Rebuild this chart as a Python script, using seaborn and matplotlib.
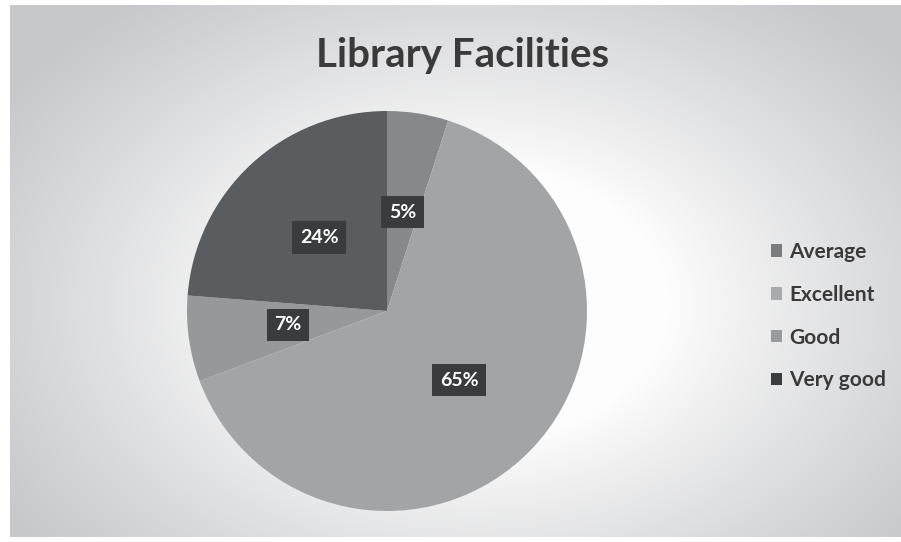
import numpy as np
import matplotlib
matplotlib.use("Agg")
import matplotlib.pyplot as plt
import seaborn as sns
from matplotlib.patches import Patch

# Survey responses on library facilities (percent of respondents)
categories = ["Average", "Excellent", "Good", "Very good"]
shares = [5, 65, 7, 24]
title = "Library Facilities"

sns.set_style("white")
plt.rcParams["font.family"] = ["Lato", "DejaVu Sans"]

slice_colors = ["#86898b", "#a3a4a6", "#96989a", "#5a5d5f"]
legend_colors = ["#7a7c7e", "#a9aaac", "#9a9b9d", "#3b3d3f"]

W, H = 901, 542
fig = plt.figure(figsize=(W / 100, H / 100), dpi=100, facecolor="white")

# Chart area with a soft radial gradient (white centre, grey rim)
bg = fig.add_axes([10 / W, 5 / H, (W - 10) / W, 532 / H])
bg.set_axis_off()
ny, nx = 266, 446
yy, xx = np.mgrid[0:ny, 0:nx]
cx, cy = 0.52 * nx, 0.56 * ny
d = np.sqrt(((xx - cx) / (0.62 * nx)) ** 2 + ((yy - cy) / (0.72 * ny)) ** 2)
t = np.clip((d - 0.35) / 0.65, 0, 1) ** 0.9
inner = np.array([0.995, 0.995, 0.995])
outer = np.array([0.78, 0.785, 0.795])
img = inner[None, None, :] * (1 - t[..., None]) + outer[None, None, :] * t[..., None]
bg.imshow(img, aspect="auto", interpolation="bilinear", extent=[0, 1, 0, 1])
bg.set_xlim(0, 1)
bg.set_ylim(0, 1)

# Pie
ax = fig.add_axes([187 / W, 31 / H, 400 / W, 400 / H])
ax.set_axis_off()
wedges, _ = ax.pie(shares, colors=slice_colors, startangle=90, counterclock=False,
                   wedgeprops=dict(linewidth=0), radius=1.0)
ax.set_xlim(-1.0, 1.0)
ax.set_ylim(-1.0, 1.0)
ax.set_aspect("equal")

for w, v in zip(wedges, shares):
    mid = np.deg2rad((w.theta1 + w.theta2) / 2)
    r = 0.5
    ax.text(r * np.cos(mid), r * np.sin(mid), f"{v}%", ha="center", va="center",
            color="white", fontsize=14, fontweight="bold",
            bbox=dict(boxstyle="square,pad=0.4", facecolor="#3a3b3c", edgecolor="none"))

fig.text(463 / W, 1 - 55 / H, title, ha="center", va="center",
         fontsize=29, fontweight="bold", color="#3a3a3a")

handles = [Patch(facecolor=c, edgecolor="none") for c in legend_colors]
leg = fig.legend(handles, categories, loc="upper left", bbox_to_anchor=(752 / W, 1 - 223 / H),
                 frameon=False, handlelength=0.55, handleheight=0.55,
                 handletextpad=0.35, labelspacing=1.1, prop=dict(weight="bold", size=15))
for txt in leg.get_texts():
    txt.set_color("#3a3a3a")

fig.savefig("out.png", dpi=100, facecolor="white")
